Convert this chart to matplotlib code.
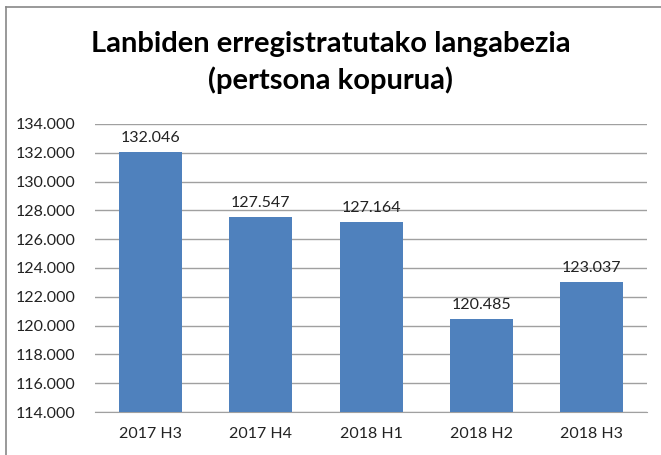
import matplotlib.pyplot as plt
from matplotlib.ticker import FuncFormatter, MultipleLocator
from matplotlib.lines import Line2D

categories = ["2017 H3", "2017 H4", "2018 H1", "2018 H2", "2018 H3"]
values = [132046, 127547, 127164, 120485, 123037]
title = "Lanbiden erregistratutako langabezia\n(pertsona kopurua)"

plt.rcParams['font.family'] = ['Lato', 'DejaVu Sans']

fig = plt.figure(figsize=(6.61, 4.55), dpi=100)
ax = fig.add_axes([0.1437, 0.0945, 0.979 - 0.1437, 0.7275 - 0.0945])

x = range(len(categories))
bars = ax.bar(x, values, width=0.57, color='#4F81BD', zorder=3)
ax.set_ylim(114000, 134000)
ax.set_xlim(-0.5, len(categories) - 0.5)
ax.yaxis.set_major_locator(MultipleLocator(2000))
ax.yaxis.set_major_formatter(FuncFormatter(lambda v, p: f"{int(v):,}".replace(",", ".")))
ax.set_xticks(list(x))
ax.set_xticklabels(categories)
ax.grid(axis='y', color='#A0A0A0', linewidth=1, zorder=0)
for s in ['top', 'right', 'left']:
    ax.spines[s].set_visible(False)
ax.spines['bottom'].set_color('#A0A0A0')
ax.tick_params(axis='both', length=0, labelsize=11.5, colors='#222222')
ax.tick_params(axis='y', pad=14)
ax.tick_params(axis='x', pad=11)

for xi, v in zip(x, values):
    ax.annotate(f"{v:,}".replace(",", "."), (xi, v), xytext=(0, 5), textcoords='offset points',
                ha='center', va='bottom', fontsize=11.5, color='#222222')

fig.text(0.5, 0.862, title, ha='center', va='center', fontsize=21, fontweight='bold',
         linespacing=1.4)

fig.add_artist(Line2D([6/661, 1], [1 - 7/455, 1 - 7/455], color='#888888', lw=1.2, transform=fig.transFigure))
fig.add_artist(Line2D([6/661, 6/661], [0, 1 - 7/455], color='#888888', lw=1.2, transform=fig.transFigure))

fig.savefig('out.png', dpi=100)
